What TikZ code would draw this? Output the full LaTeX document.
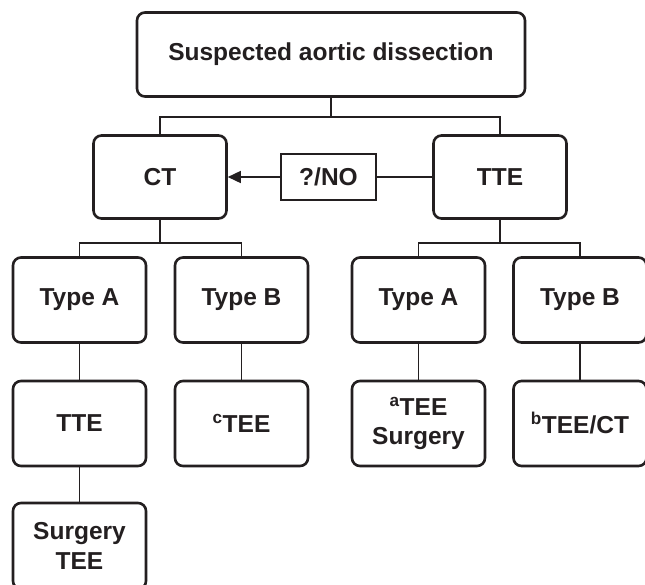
\documentclass[tikz,border=0pt]{standalone}
\usepackage{fontspec}
\setmainfont{Liberation Sans}
\usetikzlibrary{arrows.meta}
\definecolor{ink}{RGB}{35,31,32}
\tikzset{
  box/.style={draw=ink, line width=2.6pt, rounded corners=8pt, minimum width=133pt,
    minimum height=85pt, align=center, inner sep=0pt,
    font=\fontsize{24.5pt}{29.5pt}\selectfont\bfseries, text=ink},
  sqbox/.style={draw=ink, line width=2.6pt, minimum width=95pt, minimum height=46pt,
    inner sep=0pt, font=\fontsize{24.5pt}{29.5pt}\selectfont\bfseries, text=ink},
  conn/.style={draw=ink, line width=1.6pt},
  arr/.style={conn, -{Triangle[length=13pt,width=12pt]}}
}
\begin{document}
\begin{tikzpicture}[x=1pt,y=-1pt]
\clip (0,0) rectangle (645,584);
\fill[white] (0,0) rectangle (645,584);
\node[box, minimum width=388pt, minimum height=84pt] (top) at (331,54.5) {Suspected aortic dissection};
\node[box, minimum height=83pt] (ct) at (160,177) {CT};
\node[box, minimum height=83pt] (tte) at (500,177) {TTE};
\node[sqbox] (q) at (328.5,177) {?/NO};
\node[box] (la) at (79.5,300) {Type A};
\node[box] (lb) at (241.5,300) {Type B};
\node[box] (ra) at (418.5,300) {Type A};
\node[box] (rb) at (580,300) {Type B};
\node[box] (ltte) at (79.5,423.5) {TTE};
\node[box] (ctee) at (241.5,423.5) {\textsuperscript{c}TEE};
\node[box] (atee) at (418.5,423.5) {\textsuperscript{a}TEE\\Surgery};
\node[box] (btee) at (580,423.5) {\textsuperscript{b}TEE/CT};
\node[box, minimum height=86pt] (surg) at (79.5,546) {Surgery\\TEE};
\coordinate (j1) at (331,117);
\coordinate (j2) at (160,243);
\coordinate (j3) at (500,243);
\draw[conn] (top.south) -- (j1) -| (ct.north);
\draw[conn] (j1) -| (tte.north);
\draw[arr] (q.west) -- (ct.east);
\draw[conn] (q.east) -- (tte.west);
\draw[conn] (ct.south) -- (j2) -| (la.north);
\draw[conn] (j2) -| (lb.north);
\draw[conn] (tte.south) -- (j3) -| (ra.north);
\draw[conn] (j3) -| (rb.north);
\draw[conn] (la.south) -- (ltte.north);
\draw[conn] (lb.south) -- (ctee.north);
\draw[conn] (ra.south) -- (atee.north);
\draw[conn] (rb.south) -- (btee.north);
\draw[conn] (ltte.south) -- (surg.north);
\end{tikzpicture}
\end{document}
